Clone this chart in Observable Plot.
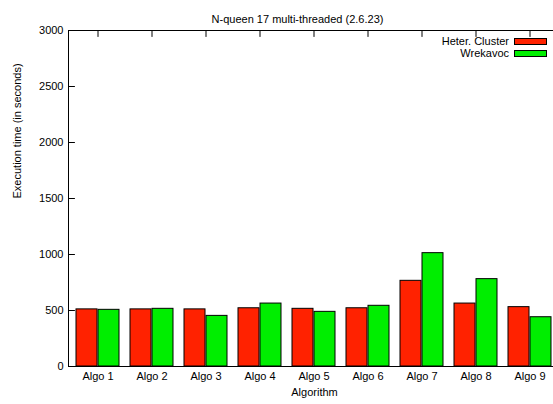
<!DOCTYPE html>
<html><head><meta charset="utf-8">
<script src="https://cdn.jsdelivr.net/npm/d3@7"></script>
<script src="https://cdn.jsdelivr.net/npm/@observablehq/plot@0.6"></script>
<style>
body{margin:0;overflow:hidden;background:#fff;font-family:"Liberation Sans",Arial,sans-serif;}
#wrap{position:relative;width:553px;height:404px;overflow:hidden;}
#wrap svg{max-width:none;}
.leg{position:absolute;font-size:11px;color:#000;line-height:12px;}
.leg .t{position:absolute;right:44px;white-space:nowrap;}
.leg .s{position:absolute;right:6px;width:31px;height:5px;border:1px solid #000;}
</style></head><body><div id="wrap"></div>
<script>
const algorithms = ["Algo 1","Algo 2","Algo 3","Algo 4","Algo 5","Algo 6","Algo 7","Algo 8","Algo 9"];
const seriesNames = ["Heter. Cluster","Wrekavoc"];
const heterCluster = [510, 510, 510, 520, 515, 520, 765, 562, 530];
const wrekavoc = [506, 515, 452, 562, 488, 542, 1012, 780, 440];
const yTicks = [0, 500, 1000, 1500, 2000, 2500, 3000];
const colors = ["#ff2200", "#00ee00"];
const title = "N-queen 17 multi-threaded (2.6.23)";
const xLabel = "Algorithm";
const yLabel = "Execution time (in seconds)";

const redData = algorithms.map((a, i) => ({algo: a, series: seriesNames[0], value: heterCluster[i]}));
const greenData = algorithms.map((a, i) => ({algo: a, series: seriesNames[1], value: wrekavoc[i]}));

const tickShape = {draw(context, l) { context.moveTo(0, 0); context.lineTo(0, -l); }};

const chart = Plot.plot({
  width: 560, height: 404,
  marginLeft: 68, marginRight: 0, marginTop: 30, marginBottom: 38,
  style: {fontFamily: "Liberation Sans, Arial, sans-serif", fontSize: "11px", color: "#000", background: "white", maxWidth: "none"},
  x: {domain: algorithms, paddingInner: 0.196, paddingOuter: 0.097, axis: null},
  y: {domain: [0, 3000], axis: null},
  color: {domain: seriesNames, range: colors},
  marks: [
    Plot.barY(redData, {x: "algo", y: "value", fill: "series", stroke: "#000", strokeWidth: 1, insetRight: 22}),
    Plot.barY(greenData, {x: "algo", y: "value", fill: "series", stroke: "#000", strokeWidth: 1, insetLeft: 22}),
    Plot.frame({stroke: "#000", strokeWidth: 1}),
    Plot.vector(yTicks, {y: d => d, frameAnchor: "left", length: 6, rotate: 90, anchor: "start", shape: tickShape, stroke: "#000", strokeWidth: 1}),
    Plot.vector(algorithms, {x: d => d, frameAnchor: "top", length: 6, rotate: 180, anchor: "start", shape: tickShape, stroke: "#000", strokeWidth: 1}),
    Plot.axisY({ticks: yTicks, tickSize: 0, tickPadding: 5, tickFormat: d => String(d), label: null}),
    Plot.axisX({anchor: "bottom", tickSize: 0, tickPadding: 6, label: null}),
    Plot.text([xLabel], {frameAnchor: "bottom", dy: 29, text: d => d}),
    Plot.text([yLabel], {frameAnchor: "left", dx: -51, rotate: -90, text: d => d}),
    Plot.text([title], {frameAnchor: "top", dx: -17, dy: -15, text: d => d})
  ]
});
const wrap = document.getElementById("wrap");
wrap.appendChild(chart);

seriesNames.forEach((name, i) => {
  const row = document.createElement("div");
  row.className = "leg";
  row.style.left = "0px";
  row.style.width = "553px";
  row.style.top = (35 + i * 11.7) + "px";
  const t = document.createElement("span");
  t.className = "t"; t.textContent = name;
  const s = document.createElement("span");
  s.className = "s"; s.style.background = colors[i]; s.style.top = "3px";
  row.appendChild(t); row.appendChild(s);
  wrap.appendChild(row);
});
</script></body></html>
